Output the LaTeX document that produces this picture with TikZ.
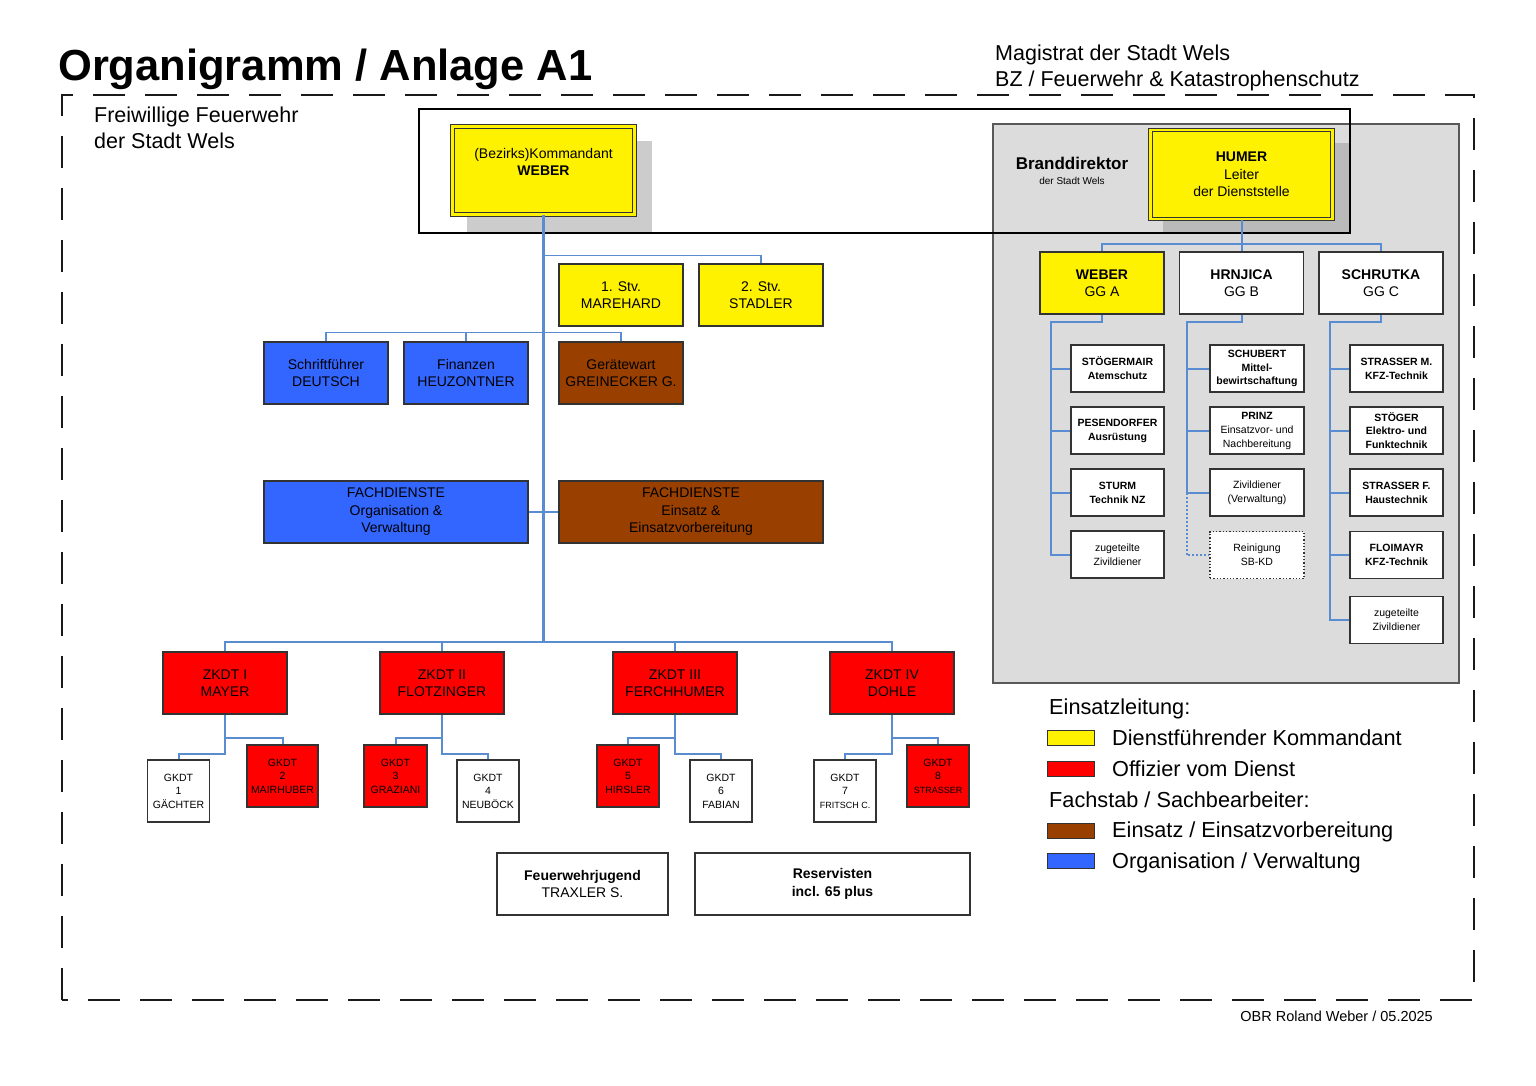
\documentclass[tikz,border=0pt]{standalone}
\usepackage{fontspec}
\setmainfont{Liberation Sans}
\definecolor{braun}{RGB}{153,64,0}
\definecolor{blau}{RGB}{51,102,255}
\definecolor{linienblau}{RGB}{90,140,210}
\definecolor{panelgrau}{RGB}{220,220,220}
\begin{document}
\begin{tikzpicture}[x=1pt, y=-1pt,
	box/.style={draw=black!80, line width=1.3pt, minimum width=124, minimum height=62, inner sep=1pt, align=center, font=\fontsize{14}{17.5}\selectfont},
	gelb/.style={box, fill=yellow},
	rot/.style={box, fill=red},
	braunbox/.style={box, fill=braun},
	blaubox/.style={box, fill=blau},
	weiss/.style={box, fill=white},
	leiter/.style={draw=black!80, line width=1pt, double=yellow, double distance=2.4pt, fill=yellow, minimum width=182, minimum height=88, inner sep=1pt, align=center, font=\fontsize{14}{17.5}\selectfont},
	gkdt/.style={box, minimum width=62, font=\fontsize{10.5}{13.5}\selectfont},
	sach/.style={box, fill=white, minimum width=93, minimum height=47, font=\fontsize{10.5}{14}\selectfont},
	linie/.style={draw=linienblau, line width=2pt},
	schatten/.style={fill=black!20},
	legende/.style={draw=black!80, line width=1pt, minimum width=47, minimum height=15, inner sep=0},
	legtext/.style={anchor=base west, inner sep=0, font=\fontsize{21.7}{25}\selectfont}]
	\useasboundingbox (0,0) rectangle (1536,1085);
	\node[anchor=base west, inner sep=0, font=\bfseries\fontsize{43.5}{50}\selectfont] (titel) at (58,80) {Organigramm / Anlage A1};
	\node[anchor=base west, inner sep=0, font=\fontsize{21.5}{26}\selectfont] (mag1) at (995,60) {Magistrat der Stadt Wels};
	\node[anchor=base west, inner sep=0, font=\fontsize{21.5}{26}\selectfont] (mag2) at (995,86) {BZ / Feuerwehr \& Katastrophenschutz};
	\node[anchor=base west, inner sep=0, font=\fontsize{21.5}{26}\selectfont] (ffw1) at (94,122) {Freiwillige Feuerwehr};
	\node[anchor=base west, inner sep=0, font=\fontsize{21.5}{26}\selectfont] (ffw2) at (94,148) {der Stadt Wels};
	\draw[black!90, line width=2pt, dash pattern=on 32pt off 20pt] (62,1000) -- (62,95) -- (1474,95) -- (1474,1000) -- cycle;
	\draw[fill=panelgrau, draw=black!65, line width=1.3pt] (993,124) rectangle (1459,683);
	\fill[schatten] (467,141) rectangle (652,232);
	\fill[black!27] (1163,143) rectangle (1349,232);
	\draw[line width=2.2pt] (419,109) rectangle (1350,233);
	\node[leiter] (kdt) at (543.5,170.5) {(Bezirks)Kommandant\\\textbf{WEBER}\\~};
	\node[gelb] (stv1) at (621,295) {1. Stv.\\MAREHARD};
	\node[gelb] (stv2) at (761,295) {2. Stv.\\STADLER};
	\node[blaubox] (schrift) at (326,373) {Schriftführer\\DEUTSCH};
	\node[blaubox] (finanz) at (466,373) {Finanzen\\HEUZONTNER};
	\node[braunbox] (geraet) at (621,373) {Gerätewart\\GREINECKER G.};
	\node[blaubox, minimum width=264] (fdorg) at (396,512) {FACHDIENSTE\\Organisation \&\\Verwaltung};
	\node[braunbox, minimum width=264] (fdeins) at (691,512) {FACHDIENSTE\\Einsatz \&\\Einsatzvorbereitung};
	\node[rot] (zk1) at (225,683) {ZKDT I\\MAYER};
	\node[rot] (zk2) at (442,683) {ZKDT II\\FLOTZINGER};
	\node[rot] (zk3) at (675,683) {ZKDT III\\FERCHHUMER};
	\node[rot] (zk4) at (892,683) {ZKDT IV\\DOHLE};
	\node[gkdt, fill=white] (g1) at (178.5,791) {GKDT\\1\\GÄCHTER};
	\node[gkdt, fill=red, minimum width=71] (g2) at (282.5,776) {GKDT\\2\\MAIRHUBER};
	\node[gkdt, fill=red, minimum width=63] (g3) at (395.5,776) {GKDT\\3\\GRAZIANI};
	\node[gkdt, fill=white] (g4) at (488,791) {GKDT\\4\\NEUBÖCK};
	\node[gkdt, fill=red] (g5) at (628,776) {GKDT\\5\\HIRSLER};
	\node[gkdt, fill=white] (g6) at (721,791) {GKDT\\6\\FABIAN};
	\node[gkdt, fill=white] (g7) at (845,791) {GKDT\\7\\{\fontsize{9}{13.5}\selectfont FRITSCH C.}};
	\node[gkdt, fill=red] (g8) at (938,776) {GKDT\\8\\{\fontsize{9}{13.5}\selectfont STRASSER}};
	\node[weiss, minimum width=171] (jugend) at (582.5,884) {\textbf{Feuerwehrjugend}\\TRAXLER S.};
	\node[weiss, minimum width=275] (reserve) at (832.5,884) {\textbf{Reservisten}\\\textbf{incl. 65 plus}};
	\node[inner sep=0, font=\bfseries\fontsize{17}{20}\selectfont] (bd) at (1072,163) {Branddirektor};
	\node[inner sep=0, font=\fontsize{10}{12}\selectfont] (bdsub) at (1072,181) {der Stadt Wels};
	\node[leiter, minimum height=89] (humer) at (1241.5,174.5) {\textbf{HUMER}\\Leiter\\der Dienststelle};
	\node[gelb] (gga) at (1102,283) {\textbf{WEBER}\\GG A};
	\node[weiss] (ggb) at (1241.5,283) {\textbf{HRNJICA}\\GG B};
	\node[weiss] (ggc) at (1381,283) {\textbf{SCHRUTKA}\\GG C};
	\node[sach] (stoegermair) at (1117.5,368.5) {\textbf{STÖGERMAIR}\\\textbf{Atemschutz}};
	\node[sach] (pesendorfer) at (1117.5,430.5) {\textbf{PESENDORFER}\\\textbf{Ausrüstung}};
	\node[sach] (sturm) at (1117.5,492.5) {\textbf{STURM}\\\textbf{Technik NZ}};
	\node[sach] (zivA) at (1117.5,554.5) {zugeteilte\\Zivildiener};
	\node[sach, minimum width=94, font=\bfseries\fontsize{10.5}{13.5}\selectfont] (schubert) at (1257,368.5) {SCHUBERT\\Mittel-\\bewirtschaftung};
	\node[sach, minimum width=94] (prinz) at (1257,430.5) {\textbf{PRINZ}\\Einsatzvor- und\\Nachbereitung};
	\node[sach, minimum width=94] (zivB) at (1257,492.5) {Zivildiener\\(Verwaltung)};
	\node[sach, minimum width=94, dotted] (rein) at (1257,555) {Reinigung\\SB-KD};
	\node[sach] (strasserm) at (1396.5,368.5) {\textbf{STRASSER M.}\\\textbf{KFZ-Technik}};
	\node[sach, font=\bfseries\fontsize{10.5}{13.5}\selectfont] (stoeger) at (1396.5,430.5) {STÖGER\\Elektro- und\\Funktechnik};
	\node[sach] (strasserf) at (1396.5,492.5) {\textbf{STRASSER F.}\\\textbf{Haustechnik}};
	\node[sach] (floimayr) at (1396.5,555) {\textbf{FLOIMAYR}\\\textbf{KFZ-Technik}};
	\node[sach] (zivC) at (1396.5,620) {zugeteilte\\Zivildiener};
	\coordinate (zbar) at (543.5,643);
	\coordinate (ggbar) at (1241.5,244);
	\draw[linie, line width=2.3pt] (kdt.south) -- (zbar);
	\draw[linie, line width=1.6pt] (stv2.north) -- ++(0,-8) -| (kdt.south);
	\draw[linie, line width=1.6pt] (schrift.north) -- ++(0,-9) -| (geraet.north);
	\draw[linie, line width=1.6pt] (finanz.north) -- ++(0,-9);
	\draw[linie, line width=1.6pt] (fdorg.east) -- (fdeins.west);
	\draw[linie] (zk1.north) -- ++(0,-9) -| (zk4.north);
	\draw[linie] (zk2.north) -- ++(0,-9);
	\draw[linie] (zk3.north) -- ++(0,-9);
	\draw[linie] (zk1.south) -- ++(0,23) -| (g2.north);
	\draw[linie] (zk1.south) -- ++(0,39) -| (g1.north);
	\draw[linie] (zk2.south) -- ++(0,23) -| (g3.north);
	\draw[linie] (zk2.south) -- ++(0,39) -| (g4.north);
	\draw[linie] (zk3.south) -- ++(0,23) -| (g5.north);
	\draw[linie] (zk3.south) -- ++(0,39) -| (g6.north);
	\draw[linie] (zk4.south) -- ++(0,23) -| (g8.north);
	\draw[linie] (zk4.south) -- ++(0,39) -| (g7.north);
	\draw[linie] (humer.south) -- (ggbar);
	\draw[linie] (gga.north) |- (ggbar) -| (ggc.north);
	\draw[linie] (ggb.north) -- (ggbar);
	\draw[linie] (gga.south) -- ++(0,7.5) -| ([xshift=-19pt]zivA.west) -- (zivA.west);
	\foreach \n in {stoegermair,pesendorfer,sturm}
		\draw[linie] (\n.west) -- ++(-19,0);
	\draw[linie] (ggb.south) -- ++(0,7.5) -| ([xshift=-22.5pt]zivB.west) -- (zivB.west);
	\foreach \n in {schubert,prinz}
		\draw[linie] (\n.west) -- ++(-22.5,0);
	\draw[linie, dotted, line width=1.6pt] ([xshift=-22.5pt]zivB.west) |- (rein.west);
	\draw[linie] (ggc.south) -- ++(0,7.5) -| ([xshift=-19.5pt]zivC.west) -- (zivC.west);
	\foreach \n in {strasserm,stoeger,strasserf,floimayr}
		\draw[linie] (\n.west) -- ++(-19.5,0);
	\node[legtext, anchor=base west] (leg1) at (1049,714) {Einsatzleitung:};
	\node[legende, fill=yellow] (lgelb) at (1071,737.5) {};
	\node[legtext] at (1112,745) {Dienstführender Kommandant};
	\node[legende, fill=red] (lrot) at (1071,768.5) {};
	\node[legtext] at (1112,776) {Offizier vom Dienst};
	\node[legtext] (leg2) at (1049,807) {Fachstab / Sachbearbeiter:};
	\node[legende, fill=braun] (lbraun) at (1071,830.5) {};
	\node[legtext] at (1112,837) {Einsatz / Einsatzvorbereitung};
	\node[legende, fill=blau] (lblau) at (1071,861) {};
	\node[legtext] at (1112,868) {Organisation / Verwaltung};
	\node[anchor=base east, inner sep=0, font=\fontsize{14.5}{16}\selectfont] (fuss) at (1433,1021) {OBR Roland Weber / 05.2025};
\end{tikzpicture}
\end{document}
